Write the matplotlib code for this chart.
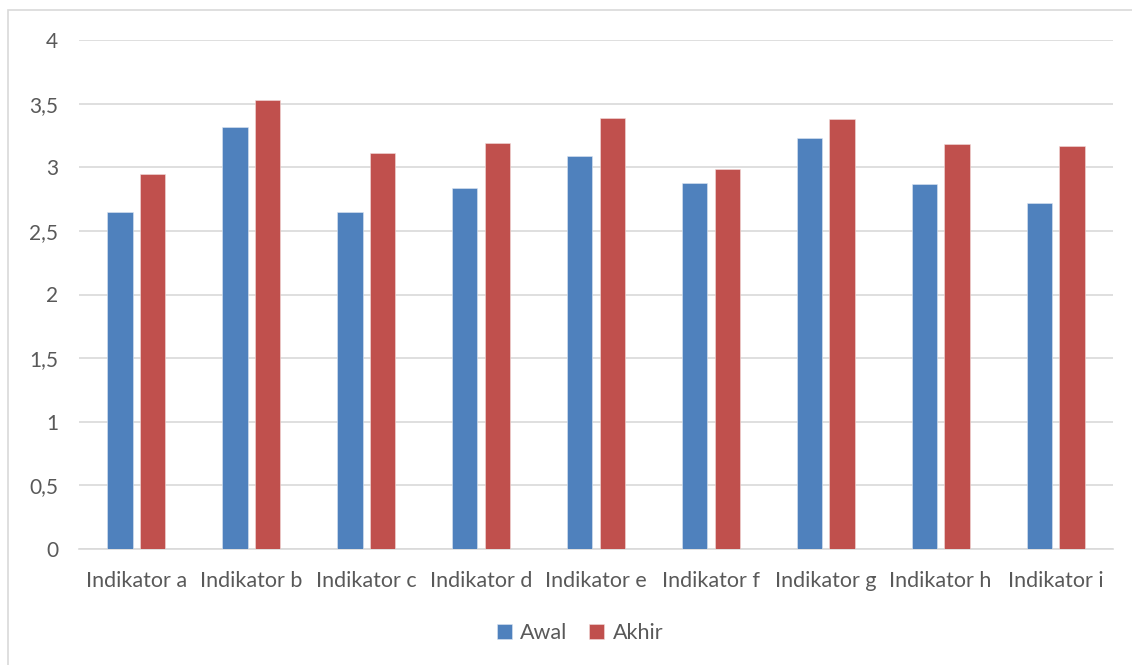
import matplotlib
matplotlib.use("Agg")
import matplotlib.pyplot as plt
import numpy as np
from matplotlib.patches import Rectangle

categories = ["Indikator a", "Indikator b", "Indikator c", "Indikator d", "Indikator e",
              "Indikator f", "Indikator g", "Indikator h", "Indikator i"]
awal = [2.65, 3.32, 2.65, 2.84, 3.09, 2.88, 3.23, 2.87, 2.72]
akhir = [2.95, 3.53, 3.11, 3.19, 3.39, 2.99, 3.38, 3.18, 3.17]
yticks = [0, 0.5, 1, 1.5, 2, 2.5, 3, 3.5, 4]
ytick_labels = ["0", "0,5", "1", "1,5", "2", "2,5", "3", "3,5", "4"]

blue = "#4f81bd"
red = "#c0504d"
text_color = "#595959"
grid_color = "#d9d9d9"

plt.rcParams["font.family"] = ["Lato", "DejaVu Sans"]

fig = plt.figure(figsize=(11.32, 6.65), dpi=100)
W, H = 1132, 665
fig.patches.append(Rectangle((8 / W, -0.1), 1.2, 1 - 10 / H + 0.1, transform=fig.transFigure,
                             fill=False, edgecolor=grid_color, linewidth=1.2))

ax = fig.add_axes([79 / W, 1 - 549 / H, (1113 - 79) / W, (549 - 40) / H])
x = np.arange(len(categories))
bw = 0.22
off = 0.142
ax.bar(x - off, awal, bw, color=blue, edgecolor="#dce6f2", linewidth=0.4, label="Awal", zorder=3)
ax.bar(x + off, akhir, bw, color=red, edgecolor="#f2dcdb", linewidth=0.4, label="Akhir", zorder=3)

ax.set_xlim(-0.5, len(categories) - 0.5)
ax.set_ylim(0, 4)
ax.set_yticks(yticks)
ax.set_yticklabels(ytick_labels)
ax.set_xticks(x)
ax.set_xticklabels(categories)
ax.yaxis.grid(True, color=grid_color, linewidth=1.2, zorder=0)
ax.set_axisbelow(True)
for s in ["top", "right", "left"]:
    ax.spines[s].set_visible(False)
ax.spines["bottom"].set_color(grid_color)
ax.spines["bottom"].set_linewidth(1.2)
ax.tick_params(axis="both", length=0, colors=text_color)
ax.tick_params(axis="y", pad=15, labelsize=15)
ax.tick_params(axis="x", pad=16, labelsize=15.5)

leg = fig.legend(loc="center", bbox_to_anchor=(580 / W, 1 - 633 / H), ncol=2, frameon=False,
                 fontsize=15.5, handlelength=0.7, handleheight=0.7, handletextpad=0.4,
                 columnspacing=1.0)
for t in leg.get_texts():
    t.set_color(text_color)

fig.savefig("out.png", dpi=100)
